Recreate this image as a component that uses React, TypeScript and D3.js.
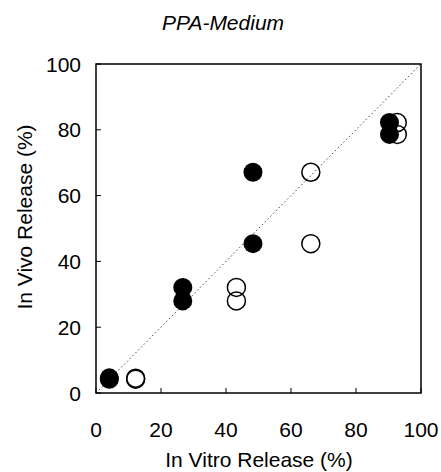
import React from "react";
import * as d3 from "d3";

const filledX = [4.1, 4.1, 26.7, 26.7, 48.3, 48.3, 90.3, 90.3];
const filledY = [4.2, 4.6, 32.1, 28.0, 67.1, 45.4, 82.2, 78.6];
const openX = [12.2, 12.2, 43.2, 43.2, 66.1, 66.1, 92.7, 92.7];
const openY = [4.2, 4.5, 32.1, 28.0, 67.1, 45.4, 82.2, 78.6];
const ticks = [0, 20, 40, 60, 80, 100];

export default function App() {
  const W = 441, H = 472;
  const left = 96, right = 421, top = 64, bottom = 393;
  const x = d3.scaleLinear().domain([0, 100]).range([left, right]);
  const y = d3.scaleLinear().domain([0, 100]).range([bottom, top]);
  const font = "'Liberation Sans', Arial, Helvetica, sans-serif";
  const r = 9;
  const fs = 21;
  const line = d3.line<number>().x((d) => x(d)).y((d) => y(d));
  return (
    <svg width={W} height={H} style={{ position: "absolute", left: 0, top: 0 }} fontFamily={font}>
      <rect x={0} y={0} width={W} height={H} fill="white" />
      <text x={223} y={30} textAnchor="middle" fontSize={fs} fontStyle="italic">PPA-Medium</text>
      <path d={line([0, 100]) || ""} stroke="#444" strokeWidth={1} strokeDasharray="1.5,2.5" fill="none" />
      {ticks.map((t) => (
        <g key={"t" + t}>
          <line x1={x(t)} x2={x(t)} y1={bottom} y2={bottom - 5} stroke="black" strokeWidth={1} />
          <line x1={left} x2={left + 5} y1={y(t)} y2={y(t)} stroke="black" strokeWidth={1} />
          <text x={x(t)} y={437} textAnchor="middle" fontSize={fs}>{t}</text>
          <text x={81} y={y(t) + 7.5} textAnchor="end" fontSize={fs}>{t}</text>
        </g>
      ))}
      {openX.map((v, i) => (
        <circle key={"o" + i} cx={x(v)} cy={y(openY[i])} r={r} fill="none" stroke="black" strokeWidth={1.5} />
      ))}
      {filledX.map((v, i) => (
        <circle key={"f" + i} cx={x(v)} cy={y(filledY[i])} r={r + 0.5} fill="black" />
      ))}
      <rect x={left} y={top} width={right - left} height={bottom - top} fill="none" stroke="black" strokeWidth={1.5} />
      <text x={259} y={467} textAnchor="middle" fontSize={fs}>In Vitro Release (%)</text>
      <text transform={`translate(32,217) rotate(-90)`} textAnchor="middle" fontSize={fs}>In Vivo Release (%)</text>
    </svg>
  );
}
